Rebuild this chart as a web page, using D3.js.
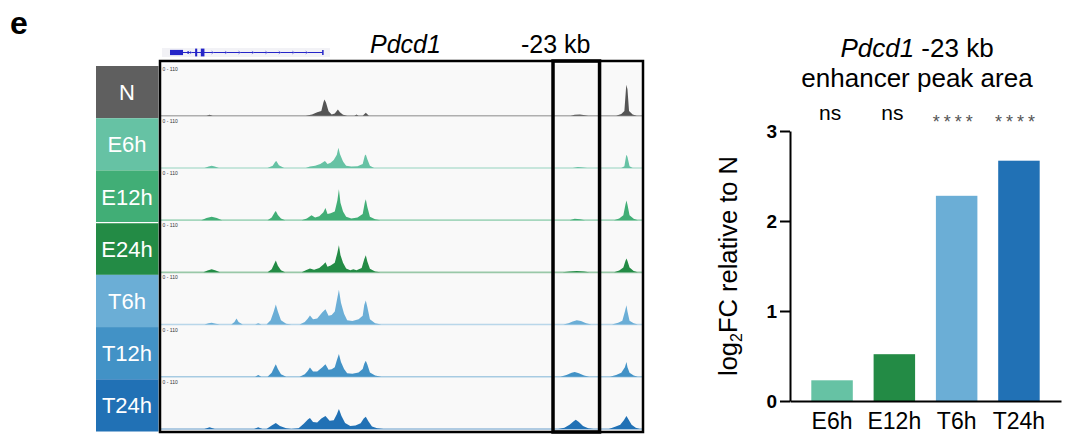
<!DOCTYPE html>
<html>
<head>
<meta charset="utf-8">
<script src="https://cdn.jsdelivr.net/npm/d3@7"></script>
<style>
  html, body { margin: 0; padding: 0; background: #fff; }
  svg { display: block; font-family: "Liberation Sans", Arial, sans-serif; }
</style>
</head>
<body>
<svg id="chart" width="1071" height="444"></svg>
<script>
// ---------------- DATA ----------------
// Genome-browser tracks: positions in kb from the window start, coverage on a 0-110 scale
const trackNames = ["N", "E6h", "E12h", "E24h", "T6h", "T12h", "T24h"];
const trackRange = [0, 110];
const windowKb = [0, 46.6];
const enhancerKb = [37.9, 42.4];

const covN = [[0,0],[4.4,0],[4.7,2],[5.0,0],
  [14.0,0],[14.6,3],[15.1,8],[15.5,11],[15.7,30],[15.8,37],[15.95,30],[16.2,10],[16.5,3],[16.8,5],[17.1,14],[17.3,8],[17.6,2],[18.0,0],
  [18.7,0],[18.9,3],[19.1,0],[19.5,0],[19.8,7],[20.1,0],
  [39.6,0],[40.0,2],[40.5,3],[41.0,1],[41.3,0],
  [44.0,0],[44.5,4],[44.8,11],[44.95,60],[45.0,71],[45.1,60],[45.25,11],[45.6,3],[46.0,0],[46.6,0]];
const covE6h = [[0,0],[4.2,0],[4.6,3],[4.9,5],[5.2,3],[5.6,0],
  [10.3,0],[10.8,5],[11.05,14],[11.15,16],[11.4,6],[11.9,0],
  [14.0,0],[14.4,3],[14.9,5],[15.4,9],[15.85,16],[16.1,9],[16.4,12],[16.7,18],[17.0,30],[17.15,46],[17.3,32],[17.6,15],[17.9,5],[18.4,3],[19.0,4],[19.5,9],[19.7,28],[19.8,31],[19.95,20],[20.2,5],[20.6,0],
  [39.8,0],[40.3,2],[40.8,1],[41.2,0],
  [44.5,0],[44.8,4],[44.95,25],[45.0,30],[45.1,25],[45.3,4],[45.6,0],[46.6,0]];
const covE12h = [[0,0],[3.9,0],[4.4,5],[4.9,8],[5.4,5],[5.9,0],
  [10.3,0],[10.7,6],[11.0,18],[11.1,21],[11.3,12],[11.6,4],[12.0,0],
  [13.6,0],[14.1,4],[14.55,11],[14.9,6],[15.3,9],[15.7,18],[15.9,28],[16.1,14],[16.4,16],[16.8,20],[17.05,45],[17.2,71],[17.35,40],[17.6,20],[17.9,8],[18.4,4],[19.0,6],[19.5,14],[19.7,40],[19.8,48],[19.95,30],[20.2,8],[20.7,2],[21.2,0],
  [39.5,0],[40.0,3],[40.5,2],[41.0,0],
  [43.8,0],[44.3,4],[44.7,11],[44.9,35],[45.0,45],[45.1,35],[45.3,11],[45.7,3],[46.1,0],[46.6,0]];
const covE24h = [[0,0],[4.1,0],[4.5,4],[4.9,7],[5.3,4],[5.7,0],
  [10.3,0],[10.7,7],[10.95,20],[11.1,27],[11.3,15],[11.6,5],[12.0,0],
  [13.6,0],[14.0,5],[14.4,9],[14.8,6],[15.3,10],[15.7,18],[15.9,23],[16.1,13],[16.4,16],[16.8,22],[17.05,45],[17.2,62],[17.35,40],[17.6,22],[17.9,9],[18.3,5],[18.6,7],[18.9,5],[19.4,10],[19.65,30],[19.8,39],[19.95,25],[20.2,8],[20.7,2],[21.2,0],
  [38.8,0],[39.5,2],[40.2,3],[40.9,2],[41.4,0],
  [43.8,0],[44.3,4],[44.7,11],[44.9,26],[45.0,32],[45.1,26],[45.3,11],[45.7,3],[46.1,0],[46.6,0]];
const covT6h = [[0,0],[4.2,0],[4.6,3],[4.9,4],[5.3,2],[5.7,0],
  [6.8,0],[7.1,6],[7.3,14],[7.5,6],[7.9,0],
  [9.1,0],[9.4,3],[9.7,0],
  [10.2,0],[10.6,10],[10.9,30],[11.1,46],[11.3,30],[11.6,10],[12.1,2],[12.6,0],
  [13.4,0],[13.9,6],[14.2,14],[14.4,21],[14.7,12],[15.1,14],[15.6,28],[15.9,35],[16.2,20],[16.5,22],[16.8,30],[17.0,55],[17.2,80],[17.4,50],[17.7,25],[18.0,10],[18.5,8],[19.1,12],[19.5,20],[19.65,45],[19.8,55],[19.95,40],[20.2,12],[20.7,3],[21.3,0],
  [38.9,0],[39.4,3],[39.8,7],[40.2,10],[40.6,8],[41.1,3],[41.6,0],
  [43.6,0],[44.2,4],[44.6,9],[44.85,30],[45.0,44],[45.1,30],[45.3,9],[45.7,3],[46.1,0],[46.6,0]];
const covT12h = [[0,0],[9.1,0],[9.4,4],[9.7,0],
  [10.3,0],[10.7,9],[10.95,22],[11.1,29],[11.3,18],[11.6,6],[12.1,0],
  [13.4,0],[13.9,6],[14.2,14],[14.4,21],[14.7,12],[15.1,12],[15.6,22],[15.9,29],[16.2,16],[16.5,17],[16.8,22],[17.0,38],[17.2,52],[17.4,34],[17.7,18],[18.0,8],[18.5,7],[19.1,10],[19.5,18],[19.65,30],[19.8,37],[19.95,28],[20.2,10],[20.7,3],[21.3,0],
  [38.6,0],[39.2,4],[39.7,9],[40.0,11],[40.4,8],[40.9,3],[41.4,0],
  [43.4,0],[44.0,4],[44.5,9],[44.85,22],[45.0,34],[45.1,22],[45.3,9],[45.7,3],[46.1,0],[46.6,0]];
const covT24h = [[0,0],[4.2,0],[4.7,4],[5.2,0],
  [9.0,0],[9.4,4],[9.8,0],
  [10.2,0],[10.7,8],[11.1,14],[11.5,7],[12.1,2],[12.6,0],
  [13.3,2],[13.8,12],[14.2,22],[14.4,25],[14.7,16],[15.1,15],[15.5,24],[15.9,30],[16.3,19],[16.7,20],[17.0,34],[17.2,46],[17.45,30],[17.8,14],[18.3,7],[18.8,8],[19.3,13],[19.6,24],[19.8,28],[20.05,18],[20.4,6],[20.9,2],[21.5,0],
  [38.4,0],[39.0,3],[39.5,10],[39.9,18],[40.1,21],[40.4,16],[40.8,7],[41.3,2],[41.8,0],
  [43.3,0],[43.9,5],[44.4,10],[44.75,20],[45.0,30],[45.2,22],[45.5,10],[45.9,3],[46.3,0],[46.6,0]];
const coverage = [covN, covE6h, covE12h, covE24h, covT6h, covT12h, covT24h];

// Gene model (kb): [start, end, thickness class]
const geneSpan = [0.87, 15.65];
const geneExons = [[0.87, 2.13, 2], [2.55, 2.7, 1], [3.3, 3.5, 3], [3.85, 4.2, 3]];
const geneArrowsKb = [2.9, 5.0, 6.3, 7.6, 8.9, 10.2, 11.5, 12.8, 14.1];

// Bar chart
const barCategories = ["E6h", "E12h", "T6h", "T24h"];
const barValues = [0.23, 0.52, 2.28, 2.67];
const barSignif = ["ns", "ns", "****", "****"];
const yTicks = [0, 1, 2, 3];

// ---------------- STYLE ----------------
const trackColors = ["#5f5f5f", "#66c2a4", "#41ae76", "#238b45", "#6baed6", "#4292c6", "#2171b5"];
const fillColors  = ["#555555", "#66c2a4", "#41ae76", "#238b45", "#6baed6", "#4292c6", "#2171b5"];
const barColors = ["#66c2a4", "#238b45", "#6baed6", "#2171b5"];

const svg = d3.select("#chart");

// Panel letter
svg.append("text").attr("x", 10).attr("y", 34)
  .attr("font-size", 32).attr("font-weight", "bold").text("e");

// ---------------- GENOME TRACKS ----------------
const xG = d3.scaleLinear(windowKb, [161, 643]);
const rows = d3.scaleBand(trackNames, [64.5, 430]);
const step = rows.step();
const hScale = d3.scaleLinear(trackRange, [0, 48]);

// track backgrounds
svg.append("g").selectAll("rect").data(trackNames).join("rect")
  .attr("x", xG(windowKb[0])).attr("y", d => rows(d))
  .attr("width", xG(windowKb[1]) - xG(windowKb[0])).attr("height", step)
  .attr("fill", "#f9f9f9");

// labels
const lab = svg.append("g");
lab.selectAll("rect").data(trackNames).join("rect")
  .attr("x", 96).attr("y", d => rows(d) + 1.5)
  .attr("width", 62.5).attr("height", step)
  .attr("fill", (d, i) => trackColors[i]);
lab.append("line").attr("x1", 96).attr("x2", 158.5)
  .attr("y1", rows("E24h") + 1.5).attr("y2", rows("E24h") + 1.5)
  .attr("stroke", "#fff").attr("stroke-width", 1.2);
lab.selectAll("text").data(trackNames).join("text")
  .attr("x", 127).attr("y", d => rows(d) + 1.5 + step / 2 + 8)
  .attr("text-anchor", "middle").attr("fill", "#fff").attr("font-size", 22)
  .text(d => d);

// coverage areas
const tracks = svg.append("g");
trackNames.forEach((name, i) => {
  const base = rows(name) + step - 1;
  const g = tracks.append("g");
  g.append("text").attr("x", 162.5).attr("y", rows(name) + 6)
    .attr("font-size", 5).attr("fill", "#333").text("0 - 110");
  g.append("line").attr("x1", xG(windowKb[0])).attr("x2", xG(windowKb[1]))
    .attr("y1", base).attr("y2", base)
    .attr("stroke", fillColors[i]).attr("stroke-opacity", 0.45).attr("stroke-width", 1.6);
  const area = d3.area()
    .x(d => xG(d[0]))
    .y0(base)
    .y1(d => base - hScale(d[1]));
  g.append("path").datum(coverage[i]).attr("d", area).attr("fill", fillColors[i]);
});

// outer box and enhancer highlight
svg.append("rect").attr("x", xG(windowKb[0]) - 1).attr("y", 61)
  .attr("width", xG(windowKb[1]) - xG(windowKb[0]) + 1).attr("height", 371)
  .attr("fill", "none").attr("stroke", "#000").attr("stroke-width", 2.5);
svg.append("rect").attr("x", xG(enhancerKb[0])).attr("y", 61)
  .attr("width", xG(enhancerKb[1]) - xG(enhancerKb[0])).attr("height", 371)
  .attr("fill", "none").attr("stroke", "#000").attr("stroke-width", 3.5);

// gene model
const gm = svg.append("g");
gm.append("rect").attr("x", 162).attr("y", 48).attr("width", 168).attr("height", 9).attr("fill", "#f2f2f6");
const gY = 52.5;
gm.append("line").attr("x1", xG(geneSpan[0])).attr("x2", xG(geneSpan[1]))
  .attr("y1", gY).attr("y2", gY).attr("stroke", "#2424c8").attr("stroke-width", 1);
gm.selectAll("rect.ex").data(geneExons).join("rect").attr("class", "ex")
  .attr("x", d => xG(d[0])).attr("width", d => Math.max(1, xG(d[1]) - xG(d[0])))
  .attr("y", d => gY - d[2] * 1.3).attr("height", d => d[2] * 2.6)
  .attr("fill", "#2424c8");
gm.selectAll("path.arr").data(geneArrowsKb).join("path").attr("class", "arr")
  .attr("d", d => `M${xG(d) - 1.2},${gY - 1.5}L${xG(d) + 0.8},${gY}L${xG(d) - 1.2},${gY + 1.5}`)
  .attr("fill", "none").attr("stroke", "#6a6ad8").attr("stroke-width", 0.7);
gm.append("line").attr("x1", xG(geneSpan[1])).attr("x2", xG(geneSpan[1]))
  .attr("y1", gY - 2.5).attr("y2", gY + 2.5).attr("stroke", "#2424c8").attr("stroke-width", 1.5);

svg.append("text").attr("x", 370).attr("y", 53).attr("font-size", 25)
  .attr("font-style", "italic").text("Pdcd1");
svg.append("text").attr("x", 521).attr("y", 53).attr("font-size", 25).text("-23 kb");

// ---------------- BAR CHART ----------------
const yS = d3.scaleLinear([0, 3], [401, 131]);
const xB = d3.scaleBand(barCategories, [790, 1061]).paddingInner(0.334).paddingOuter(0.342);

svg.append("g").selectAll("rect").data(barValues).join("rect")
  .attr("x", (d, i) => xB(barCategories[i])).attr("width", xB.bandwidth())
  .attr("y", d => yS(d)).attr("height", d => yS(0) - yS(d))
  .attr("fill", (d, i) => barColors[i]);

const yAx = svg.append("g").attr("transform", "translate(790,0)")
  .call(d3.axisLeft(yS).tickValues(yTicks).tickFormat(d3.format("d")).tickSize(10).tickSizeOuter(0).tickPadding(3));
yAx.selectAll("path,line").attr("stroke", "#000").attr("stroke-width", 2);
yAx.selectAll("text").attr("font-size", 19).attr("font-weight", "bold").attr("fill", "#000")
  .attr("font-family", "Liberation Sans, Arial, sans-serif");

const xAx = svg.append("g").attr("transform", "translate(0,401)")
  .call(d3.axisBottom(xB).tickSize(0).tickSizeOuter(0).tickPadding(12));
xAx.select(".domain").attr("stroke", "#000").attr("stroke-width", 2);
xAx.selectAll("text").attr("font-size", 23).attr("fill", "#000")
  .attr("font-family", "Liberation Sans, Arial, sans-serif");

// y label with subscript
const yl = svg.append("text").attr("transform", "translate(737,266) rotate(-90)")
  .attr("text-anchor", "middle").attr("font-size", 25.5);
yl.append("tspan").text("log");
yl.append("tspan").attr("font-size", 16).attr("dy", 5).text("2");
yl.append("tspan").attr("dy", -5).text("FC relative to N");

// title
const t1 = svg.append("text").attr("x", 917).attr("y", 57).attr("text-anchor", "middle").attr("font-size", 26);
t1.append("tspan").attr("font-style", "italic").text("Pdcd1");
t1.append("tspan").text(" -23 kb");
svg.append("text").attr("x", 917).attr("y", 87).attr("text-anchor", "middle").attr("font-size", 26)
  .text("enhancer peak area");

// significance
svg.append("g").selectAll("text").data(barSignif).join("text")
  .attr("x", (d, i) => xB(barCategories[i]) + xB.bandwidth() / 2 - 2)
  .attr("y", d => d === "ns" ? 120 : 128)
  .attr("text-anchor", "middle")
  .attr("font-size", d => d === "ns" ? 21 : 18)
  .attr("letter-spacing", d => d === "ns" ? 0 : 4)
  .attr("fill", d => d === "ns" ? "#000" : "#555")
  .text(d => d);
</script>
</body>
</html>
